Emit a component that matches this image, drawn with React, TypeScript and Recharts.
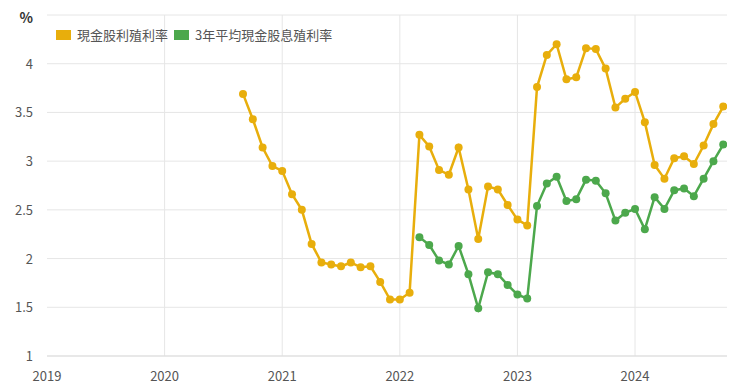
import React from 'react';
import { LineChart, Line, XAxis, YAxis, CartesianGrid, ReferenceLine } from 'recharts';

const startYear = 2020;
const startMonth = 9; // Sep 2020
const yieldCash: number[] = [
  3.69, 3.43, 3.14, 2.95, 2.90, 2.66, 2.50, 2.15, 1.96, 1.94,
  1.92, 1.96, 1.91, 1.92, 1.76, 1.58, 1.58, 1.65, 3.27, 3.15,
  2.91, 2.86, 3.14, 2.71, 2.20, 2.74, 2.71, 2.55, 2.40, 2.34,
  3.76, 4.09, 4.20, 3.84, 3.86, 4.16, 4.15, 3.95, 3.55, 3.64,
  3.71, 3.40, 2.96, 2.82, 3.03, 3.05, 2.97, 3.16, 3.38, 3.56,
];
const yield3y: (number | null)[] = [
  null, null, null, null, null, null, null, null, null, null,
  null, null, null, null, null, null, null, null, 2.22, 2.14,
  1.98, 1.94, 2.13, 1.84, 1.49, 1.86, 1.84, 1.73, 1.63, 1.59,
  2.54, 2.77, 2.84, 2.59, 2.61, 2.81, 2.80, 2.67, 2.39, 2.47,
  2.51, 2.30, 2.63, 2.51, 2.70, 2.72, 2.64, 2.82, 3.00, 3.17,
];
const yearTicks = [2019, 2020, 2021, 2022, 2023, 2024];
const yTicks = [1, 1.5, 2, 2.5, 3, 3.5, 4, 4.5];
const seriesNames = ['現金股利殖利率', '3年平均現金股息殖利率'];
const colors = ['#E8AE0C', '#4CA84C'];

const data = yieldCash.map((v, i) => ({
  t: startYear + (startMonth - 1 + i) / 12,
  a: v,
  b: yield3y[i],
}));

const FONT = '"Noto Sans CJK TC", "Noto Sans", sans-serif';

const YTick = (props: any) => {
  const { x, y, payload } = props;
  const isTop = payload.value === 4.5;
  return (
    <text
      x={x}
      y={y}
      dy={isTop ? 8 : 5}
      textAnchor="end"
      fontSize={isTop ? 14 : 13}
      fontWeight={isTop ? 700 : 400}
      fill={isTop ? '#333' : '#555'}
      fontFamily={FONT}
    >
      {isTop ? '%' : String(payload.value)}
    </text>
  );
};

const LegendBox = () => (
  <div
    style={{
      position: 'absolute',
      left: 56,
      top: 25,
      display: 'flex',
      alignItems: 'center',
      fontFamily: FONT,
      fontSize: 13,
      color: '#555',
      whiteSpace: 'nowrap',
    }}
  >
    {seriesNames.map((n, i) => (
      <div key={n} style={{ display: 'flex', alignItems: 'center', marginRight: 6 }}>
        <span style={{ display: 'inline-block', width: 15, height: 10, background: colors[i], marginRight: 6 }} />
        <span>{n}</span>
      </div>
    ))}
  </div>
);

export default function App() {
  return (
    <div style={{ position: 'absolute', left: 0, top: 0, width: 740, height: 388, background: '#fff' }}>
      <LineChart width={740} height={388} data={data} margin={{ top: 15, right: 13, left: 0, bottom: 0 }}>
        <CartesianGrid vertical={false} stroke="#e6e6e6" />
        {yearTicks.slice(1).map((yr) => (
          <ReferenceLine key={yr} x={yr} stroke="#e6e6e6" />
        ))}
        <XAxis
          dataKey="t"
          type="number"
          domain={[2019, 2024.782]}
          ticks={yearTicks}
          allowDataOverflow
          height={32}
          tickLine={false}
          axisLine={{ stroke: '#ddd' }}
          tickMargin={10}
          tick={{ fontSize: 13, fill: '#555', fontFamily: FONT }}
        />
        <YAxis
          type="number"
          domain={[1, 4.5]}
          ticks={yTicks}
          width={47}
          tickLine={false}
          axisLine={false}
          tickMargin={8}
          tick={<YTick />}
          interval={0}
        />
        <Line
          dataKey="a"
          name={seriesNames[0]}
          stroke={colors[0]}
          strokeWidth={2.5}
          dot={{ r: 4, fill: colors[0], stroke: colors[0], strokeWidth: 0 }}
          activeDot={false}
          isAnimationActive={false}
        />
        <Line
          dataKey="b"
          name={seriesNames[1]}
          stroke={colors[1]}
          strokeWidth={2.5}
          dot={{ r: 4, fill: colors[1], stroke: colors[1], strokeWidth: 0 }}
          activeDot={false}
          isAnimationActive={false}
        />
      </LineChart>
      <LegendBox />
    </div>
  );
}
